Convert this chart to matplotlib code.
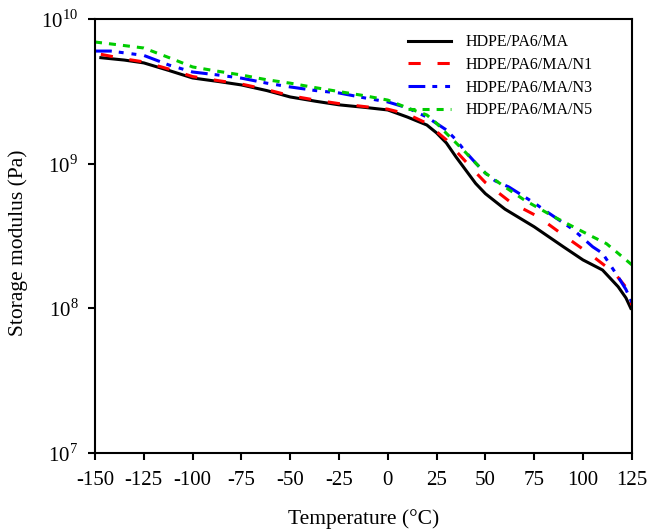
import numpy as np
import matplotlib
matplotlib.use("Agg")
import matplotlib.pyplot as plt

plt.rcParams['font.family'] = ['Liberation Serif']
plt.rcParams['mathtext.fontset'] = 'custom'
plt.rcParams['mathtext.rm'] = 'Liberation Serif'

# temperatura (°C) y módulo de almacenamiento (Pa)
t_ma = [-147, -135, -125, -112, -100, -87, -75, -62, -50, -37, -25, -12, 0, 10, 20, 25, 30, 35, 40, 45, 50, 60, 75, 90, 100, 110, 118, 122, 124.5]
e_ma = [5.4e9, 5.2e9, 4.97e9, 4.4e9, 3.91e9, 3.7e9, 3.5e9, 3.2e9, 2.89e9, 2.7e9, 2.55e9, 2.45e9, 2.35e9, 2.1e9, 1.85e9, 1.63e9, 1.39e9, 1.11e9, 9.0e8, 7.3e8, 6.2e8, 4.85e8, 3.66e8, 2.66e8, 2.16e8, 1.84e8, 1.41e8, 1.18e8, 1.0e8]

t_n1 = [-147, -135, -125, -112, -100, -87, -75, -62, -50, -37, -25, -12, 0, 10, 20, 30, 35, 40, 45, 50, 63, 77, 90, 103, 116, 122, 124, 125]
e_n1 = [5.7e9, 5.3e9, 5.05e9, 4.5e9, 4.0e9, 3.75e9, 3.55e9, 3.25e9, 2.95e9, 2.75e9, 2.6e9, 2.48e9, 2.38e9, 2.2e9, 1.9e9, 1.46e9, 1.22e9, 1.03e9, 8.7e8, 7.4e8, 5.4e8, 4.3e8, 3.2e8, 2.4e8, 1.76e8, 1.4e8, 1.2e8, 1.05e8]

t_n3 = [-150, -142, -125, -112, -100, -87, -75, -62, -50, -37, -25, -12, 0, 10, 20, 30, 35, 40, 45, 50, 55, 62, 75, 82, 95, 105, 110, 118, 122, 125]
e_n3 = [6.0e9, 6.0e9, 5.6e9, 4.8e9, 4.3e9, 4.1e9, 3.9e9, 3.6e9, 3.39e9, 3.2e9, 3.08e9, 2.85e9, 2.67e9, 2.43e9, 2.1e9, 1.71e9, 1.46e9, 1.2e9, 1.01e9, 8.6e8, 7.6e8, 6.9e8, 5.35e8, 4.6e8, 3.5e8, 2.66e8, 2.4e8, 1.65e8, 1.35e8, 1.1e8]

t_n5 = [-150, -137, -125, -112, -100, -87, -75, -62, -50, -37, -25, -12, 0, 10, 20, 25, 30, 35, 40, 45, 50, 60, 70, 85, 95, 105, 112, 118, 125]
e_n5 = [6.93e9, 6.6e9, 6.3e9, 5.4e9, 4.66e9, 4.35e9, 4.1e9, 3.8e9, 3.6e9, 3.35e9, 3.15e9, 2.95e9, 2.75e9, 2.43e9, 2.17e9, 1.9e9, 1.62e9, 1.39e9, 1.19e9, 1.01e9, 8.6e8, 6.9e8, 5.6e8, 4.3e8, 3.66e8, 3.12e8, 2.8e8, 2.4e8, 2.0e8]

etiquetas = ["HDPE/PA6/MA", "HDPE/PA6/MA/N1", "HDPE/PA6/MA/N3", "HDPE/PA6/MA/N5"]
x_ticks = [-150, -125, -100, -75, -50, -25, 0, 25, 50, 75, 100, 125]

fig = plt.figure(figsize=(6.48, 5.30), dpi=100)
ax = fig.add_axes([0.1466, 0.1453, 0.8284, 0.8189])

ax.plot(t_ma, e_ma, color='black', lw=2.2, ls='-', label=etiquetas[0])
ax.plot(t_n1, e_n1, color='red', lw=2.2, ls=(0, (4, 5.5)), label=etiquetas[1])
ax.plot(t_n3, e_n3, color='blue', lw=2.2, ls=(0, (5.5, 2.3, 1.6, 2.6, 1.6, 2.6)), label=etiquetas[2])
ax.plot(t_n5, e_n5, color='#00cc00', lw=2.2, ls=(0, (2.3, 2.3)), label=etiquetas[3])

ax.set_yscale('log')
ax.set_ylim(1e7, 1e10)
ax.set_xlim(-150, 125)
ax.set_xticks(x_ticks)
ax.set_xticklabels([str(v) for v in x_ticks])
ax.set_yticks([1e7, 1e8, 1e9, 1e10])
ax.set_yticklabels([r'$10^{7}$', r'$10^{8}$', r'$10^{9}$', r'$10^{10}$'])
ax.yaxis.set_minor_locator(matplotlib.ticker.NullLocator())

ax.tick_params(direction='out', length=5, width=1.5, labelsize=15)
ax.tick_params(axis='x', pad=8)
ax.tick_params(axis='y', pad=7)
for s in ax.spines.values():
    s.set_linewidth(1.5)

ax.set_xlabel("Temperature (°C)", fontsize=15.5, labelpad=14)
ax.set_ylabel("Storage modulus (Pa)", fontsize=15.5, labelpad=7)
ax.yaxis.set_label_coords(-0.125, 0.485)

ax.legend(loc='upper right', frameon=False, fontsize=11.5, handlelength=2.7,
          handletextpad=0.9, labelspacing=0.42, borderpad=0, borderaxespad=0,
          bbox_to_anchor=(0.927, 0.965))

fig.savefig("out.png", dpi=100)
